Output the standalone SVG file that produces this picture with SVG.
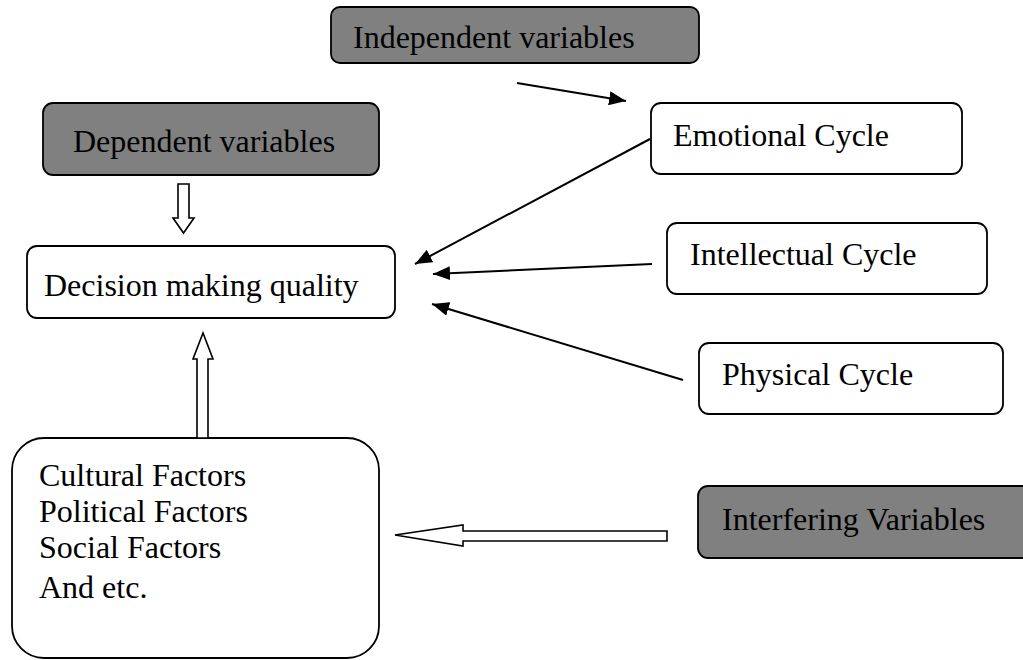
<svg xmlns="http://www.w3.org/2000/svg" width="1023" height="660" viewBox="0 0 1023 660">
<style>
.box{fill:#fff;stroke:#000;stroke-width:1.8}
.dark{fill:#808080;stroke:#000;stroke-width:1.8}
.t{font-family:"Liberation Serif","Times New Roman",serif;font-size:32px;fill:#000}
.ln{stroke:#000;stroke-width:2;fill:none}
.hollow{fill:#fff;stroke:#000;stroke-width:1.6;stroke-linejoin:miter}
</style>
<defs>
<marker id="ah" markerUnits="userSpaceOnUse" markerWidth="18" markerHeight="14" refX="17" refY="7" orient="auto">
<path d="M0,0 L17,7 L0,14 Z" fill="#000"/>
</marker>
</defs>
<rect width="1023" height="660" fill="#fff"/>
<g id="independent">
<rect class="dark" x="331" y="7" width="368" height="56" rx="9"/>
<text class="t" x="353" y="48">Independent variables</text>
</g>
<g id="dependent">
<rect class="dark" x="43" y="103" width="336" height="72" rx="10"/>
<text class="t" x="73" y="152">Dependent variables</text>
</g>
<g id="decision">
<rect class="box" x="27" y="246" width="368" height="72" rx="10"/>
<text class="t" x="44" y="296">Decision making quality</text>
</g>
<g id="emotional">
<rect class="box" x="651" y="103" width="311" height="71" rx="10"/>
<text class="t" x="673" y="146">Emotional Cycle</text>
</g>
<g id="intellectual">
<rect class="box" x="667" y="223" width="320" height="71" rx="10"/>
<text class="t" x="690" y="265">Intellectual Cycle</text>
</g>
<g id="physical">
<rect class="box" x="699" y="343" width="304" height="71" rx="10"/>
<text class="t" x="722" y="385">Physical Cycle</text>
</g>
<g id="factors">
<rect class="box" x="12" y="438" width="367" height="220" rx="32"/>
<text class="t" x="39" y="486">Cultural Factors</text>
<text class="t" x="39" y="522">Political Factors</text>
<text class="t" x="39" y="558">Social Factors</text>
<text class="t" x="39" y="598">And etc.</text>
</g>
<g id="interfering">
<rect class="dark" x="698" y="486" width="340" height="72" rx="10"/>
<text class="t" x="722" y="530">Interfering Variables</text>
</g>
<g id="connectors">
<line class="ln" x1="517" y1="83" x2="626" y2="101" marker-end="url(#ah)"/>
<line class="ln" x1="650" y1="139" x2="415" y2="264" marker-end="url(#ah)"/>
<line class="ln" x1="652" y1="264" x2="433" y2="274" marker-end="url(#ah)"/>
<line class="ln" x1="683" y1="380" x2="432" y2="304" marker-end="url(#ah)"/>
<polygon class="hollow" points="178,184 189,184 189,218 194,218 183.5,233 173,218 178,218"/>
<polygon class="hollow" points="197,438 208,438 208,359 213,359 203,333 193,359 197,359"/>
<polygon class="hollow" points="667,531 667,541 463,541 463,546 395,535 463,525 463,531"/>
</g>
</svg>
